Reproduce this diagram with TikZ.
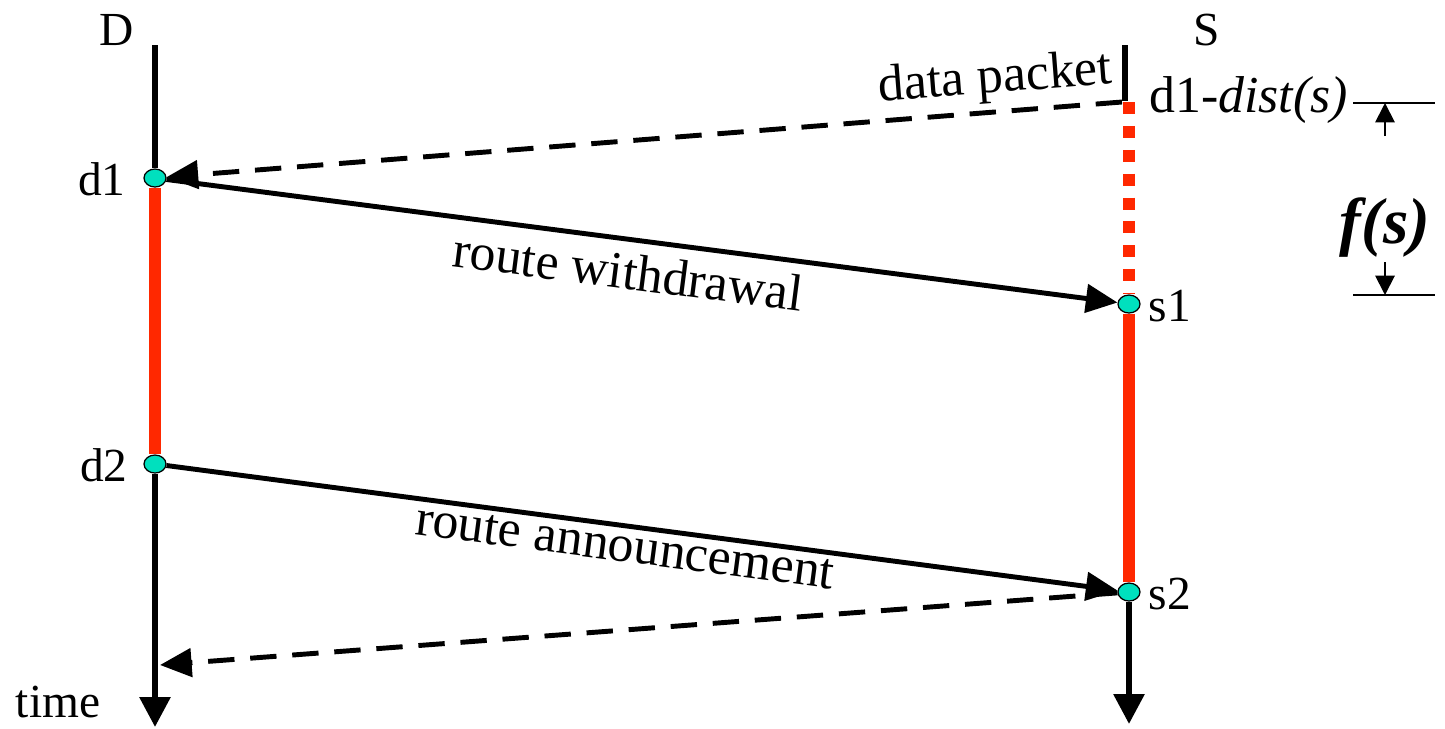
\documentclass[tikz,border=0pt]{standalone}
\usepackage{fontspec}
\setmainfont{Liberation Serif}
\usetikzlibrary{arrows.meta,shapes.geometric}
\definecolor{linkred}{RGB}{255,40,0}
\definecolor{dotgreen}{RGB}{0,224,190}

\begin{document}
\begin{tikzpicture}
	[x=0.02cm,y=-0.02cm,
	every node/.style={font=\fontsize{27}{32}\selectfont},
	msgtext/.style={font=\fontsize{29.5}{34}\selectfont},
	event/.style={draw,ellipse,fill=dotgreen,line width=0.7pt,inner sep=0pt,minimum width=0.44cm,minimum height=0.36cm},
	timeline/.style={line width=3.4pt},
	endtime/.style={timeline,-{Triangle[length=17pt,width=17pt]}},
	holdline/.style={line width=6.4pt,draw=linkred},
	msg/.style={line width=2.8pt,-{Triangle[length=18pt,width=16pt]}},
	pkt/.style={msg,dash pattern=on 15pt off 9pt},
	dimline/.style={line width=1.1pt},
	dimarrow/.style={dimline,-{Triangle[length=11pt,width=11pt]}}]
	\useasboundingbox (0,0) rectangle (1445,728);
	% events on the two time lines
	\node[event] (d1) at (155,178) {};
	\node[event] (d2) at (155,464) {};
	\node[event] (s1) at (1129,304) {};
	\node[event] (s2) at (1129,592) {};
	% free ends
	\coordinate (Dtop) at (155,45);
	\coordinate (Dend) at (155,727);
	\coordinate (Stop) at (1125,45);
	\coordinate (Sbend) at (1125,101);
	\coordinate (Swait) at (1129,102);
	\coordinate (Send) at (1129,724);
	\coordinate (sent) at (1122,102);
	\coordinate (back) at (160,665);
	% time lines
	\draw[timeline] (Dtop) -- (d1);
	\draw[holdline] (d1) -- (d2);
	\draw[endtime] (d2) -- (Dend);
	\draw[timeline] (Stop) -- (Sbend);
	\draw[holdline,dash pattern=on 6.8pt off 6.8pt] (Swait) -- (s1);
	\draw[holdline] (s1) -- (s2);
	\draw[endtime] (s2) -- (Send);
	% messages
	\draw[pkt] (sent) -- node[msgtext,pos=.13,above,sloped]{data packet} (d1);
	\draw[msg] (d1) -- node[msgtext,pos=.49,below=3pt,sloped]{route withdrawal} (s1);
	\draw[msg] (d2) -- node[msgtext,pos=.485,below=-1pt,sloped]{route announcement} (s2);
	\draw[pkt] (s2) -- (back);
	% names
	\node (Dname) at (117,30) {D};
	\node (Sname) at (1207,30) {S};
	\node (d1name) at (102,179) {d1};
	\node (d2name) at (104,465) {d2};
	\node (s1name) at (1170,306) {s1};
	\node (s2name) at (1170,594) {s2};
	\node (tname) at (58,702) {time};
	\node[msgtext,anchor=base west] (dist) at (1143,112) {d1-\textit{dist(s)}};
	% the f(s) gap
	\coordinate (topA) at (1353,103);
	\coordinate (topB) at (1435,103);
	\coordinate (botA) at (1353,295);
	\coordinate (botB) at (1435,295);
	\coordinate (upfrom) at (1385,136);
	\coordinate (upto) at (1385,103);
	\coordinate (downfrom) at (1385,262);
	\coordinate (downto) at (1385,295);
	\draw[dimline] (topA) -- (topB);
	\draw[dimline] (botA) -- (botB);
	\draw[dimarrow] (upfrom) -- (upto);
	\draw[dimarrow] (downfrom) -- (downto);
	\node[font=\fontsize{37}{42}\selectfont\bfseries\itshape] (fs) at (1385,228) {f(s)};
\end{tikzpicture}
\end{document}
